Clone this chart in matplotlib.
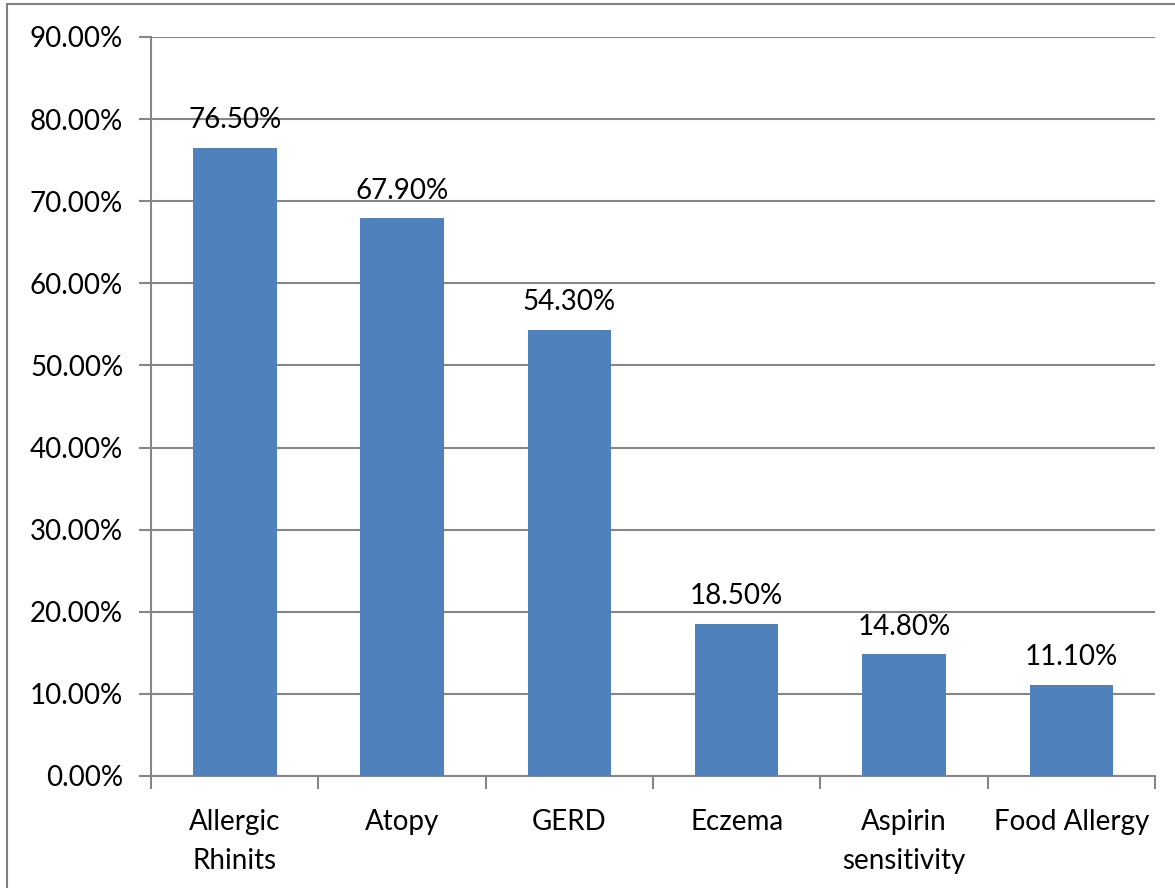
import matplotlib.pyplot as plt
import numpy as np
from matplotlib.patches import Rectangle
from matplotlib.ticker import MultipleLocator, FuncFormatter

categories = ['Allergic\nRhinits', 'Atopy', 'GERD', 'Eczema', 'Aspirin\nsensitivity', 'Food Allergy']
values = [76.5, 67.9, 54.3, 18.5, 14.8, 11.1]

plt.rcParams['font.family'] = ['Lato', 'DejaVu Sans']

W, H = 1175, 888
fig = plt.figure(figsize=(W / 100, H / 100), dpi=100)
ax = fig.add_axes([151 / W, 1 - 776 / H, (1155 - 151) / W, (776 - 37) / H])

grid_col = '#868686'
fs = 20
x = np.arange(len(categories))
ax.bar(x, values, width=0.5, color='#4F81BD', zorder=3)
for xi, v in zip(x, values):
    ax.text(xi, v + 1.8, f'{v:.2f}%', ha='center', va='bottom', fontsize=fs, color='black')

ax.set_xlim(-0.5, len(categories) - 0.5)
ax.set_ylim(0, 90)
ax.yaxis.set_major_locator(MultipleLocator(10))
ax.yaxis.set_major_formatter(FuncFormatter(lambda v, p: f'{v:.2f}%'))
ax.grid(axis='y', color=grid_col, linewidth=1.5, zorder=0)

ax.set_xticks(x)
ax.set_xticklabels(categories, fontsize=fs, linespacing=1.62)
ax.set_xticks(np.arange(len(categories) + 1) - 0.5, minor=True)
ax.tick_params(axis='x', which='major', length=0, pad=24)
ax.tick_params(axis='x', which='minor', length=9, width=1.5, color=grid_col, direction='out')
ax.tick_params(axis='y', length=9, width=1.5, color=grid_col, labelsize=fs, pad=11)

for side in ['top', 'right']:
    ax.spines[side].set_visible(False)
for side in ['left', 'bottom']:
    ax.spines[side].set_color(grid_col)
    ax.spines[side].set_linewidth(1.5)

# chart outer border (Excel chart area)
fig.patches.append(Rectangle((7 / W, -0.1), 1.2, 1 - 4 / H + 0.1, transform=fig.transFigure,
                             fill=False, edgecolor='#808080', linewidth=1.5))

fig.savefig('out.png', dpi=100)
